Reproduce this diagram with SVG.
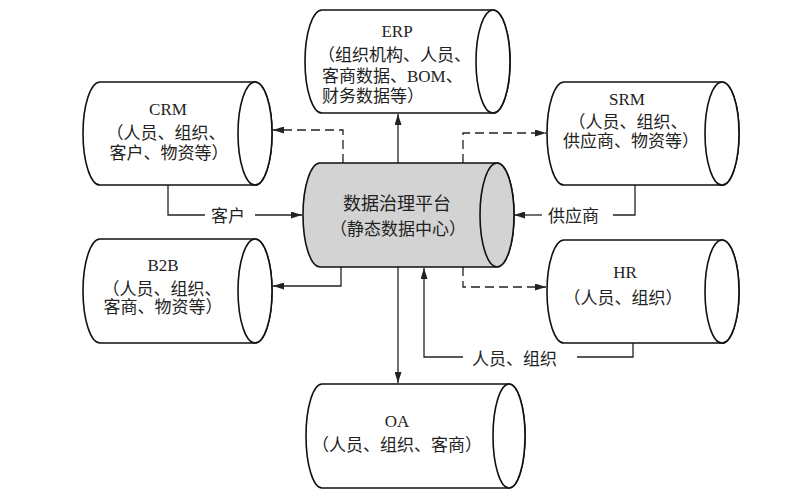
<svg xmlns="http://www.w3.org/2000/svg" width="800" height="497" viewBox="0 0 800 497">
<defs>
<style>
.cyl{fill:#fff;stroke:#111;stroke-width:1.6}
.hub{fill:#d3d3d3;stroke:#111;stroke-width:1.6}
.t{font-family:"Liberation Serif","Noto Sans CJK SC",serif;font-size:17px;fill:#222}
.m{text-anchor:middle}
.c{fill:none;stroke:#222;stroke-width:1.3}
.d{stroke-dasharray:9 5}
</style>
<marker id="ah" markerUnits="userSpaceOnUse" markerWidth="11" markerHeight="7" refX="11" refY="3.5" orient="auto">
<path d="M0,0 L11,3.5 L0,7 Z" fill="#222"/>
</marker>
</defs>
<rect width="800" height="497" fill="#fff"/>

<g id="connectors">
<path class="c" d="M398,163 V114" marker-end="url(#ah)"/>
<path class="c d" d="M343,163 V130 H273" marker-end="url(#ah)"/>
<path class="c d" d="M463,163 V133 H546" marker-end="url(#ah)"/>
<path class="c" d="M168,185 V215 H205"/>
<path class="c" d="M255,215 H302" marker-end="url(#ah)"/>
<path class="c" d="M635,185 V215 H613"/>
<path class="c" d="M542,215 H514" marker-end="url(#ah)"/>
<path class="c" d="M341,267 V286 H273" marker-end="url(#ah)"/>
<path class="c d" d="M463,267 V287 H546" marker-end="url(#ah)"/>
<path class="c" d="M633,343 V357 H577"/>
<path class="c" d="M463,357 H424 V268" marker-end="url(#ah)"/>
<path class="c" d="M398,267 V383" marker-end="url(#ah)"/>
<text class="t" x="211" y="222">客户</text>
<text class="t" x="548" y="222">供应商</text>
<text class="t" x="472" y="365">人员、组织</text>
</g>

<g id="erp">
<path class="cyl" d="M322,10 H493 A17,51.5 0 0 1 493,113 H322 A17,51.5 0 0 1 322,10 Z"/>
<ellipse class="cyl" cx="493" cy="61.5" rx="17" ry="51.5"/>
<text class="t m" x="397" y="37">ERP</text>
<text class="t" x="318" y="61">（组织机构、人员、</text>
<text class="t" x="322" y="82">客商数据、BOM、</text>
<text class="t" x="322" y="102">财务数据等）</text>
</g>

<g id="crm">
<path class="cyl" d="M100,82 H255 A17,51.5 0 0 1 255,185 H100 A17,51.5 0 0 1 100,82 Z"/>
<ellipse class="cyl" cx="255" cy="133.5" rx="17" ry="51.5"/>
<text class="t m" x="168" y="115">CRM</text>
<text class="t m" x="166" y="139">（人员、组织、</text>
<text class="t m" x="169" y="159">客户、物资等）</text>
</g>

<g id="srm">
<path class="cyl" d="M564,82 H722 A17,51.5 0 0 1 722,185 H564 A17,51.5 0 0 1 564,82 Z"/>
<ellipse class="cyl" cx="722" cy="133.5" rx="17" ry="51.5"/>
<text class="t m" x="627" y="105">SRM</text>
<text class="t m" x="628" y="128">（人员、组织、</text>
<text class="t m" x="631" y="147">供应商、物资等）</text>
</g>

<g id="hub">
<path class="hub" d="M320,163 H497 A17,52 0 0 1 497,267 H320 A17,52 0 0 1 320,163 Z"/>
<ellipse class="hub" cx="497" cy="215" rx="17" ry="52"/>
<text class="t m" x="397" y="210" style="font-size:18px">数据治理平台</text>
<text class="t m" x="398" y="235">（静态数据中心）</text>
</g>

<g id="b2b">
<path class="cyl" d="M100,239 H255 A17,52 0 0 1 255,343 H100 A17,52 0 0 1 100,239 Z"/>
<ellipse class="cyl" cx="255" cy="291" rx="17" ry="52"/>
<text class="t m" x="163" y="271">B2B</text>
<text class="t m" x="162" y="295">（人员、组织、</text>
<text class="t m" x="163" y="313">客商、物资等）</text>
</g>

<g id="hr">
<path class="cyl" d="M564,240 H722 A17,51.5 0 0 1 722,343 H564 A17,51.5 0 0 1 564,240 Z"/>
<ellipse class="cyl" cx="722" cy="291.5" rx="17" ry="51.5"/>
<text class="t m" x="625" y="278">HR</text>
<text class="t m" x="623" y="304">（人员、组织）</text>
</g>

<g id="oa">
<path class="cyl" d="M322,384 H509 A16,52 0 0 1 509,488 H322 A16,52 0 0 1 322,384 Z"/>
<ellipse class="cyl" cx="509" cy="436" rx="16" ry="52"/>
<text class="t m" x="397" y="427">OA</text>
<text class="t m" x="397" y="451">（人员、组织、客商）</text>
</g>
</svg>
